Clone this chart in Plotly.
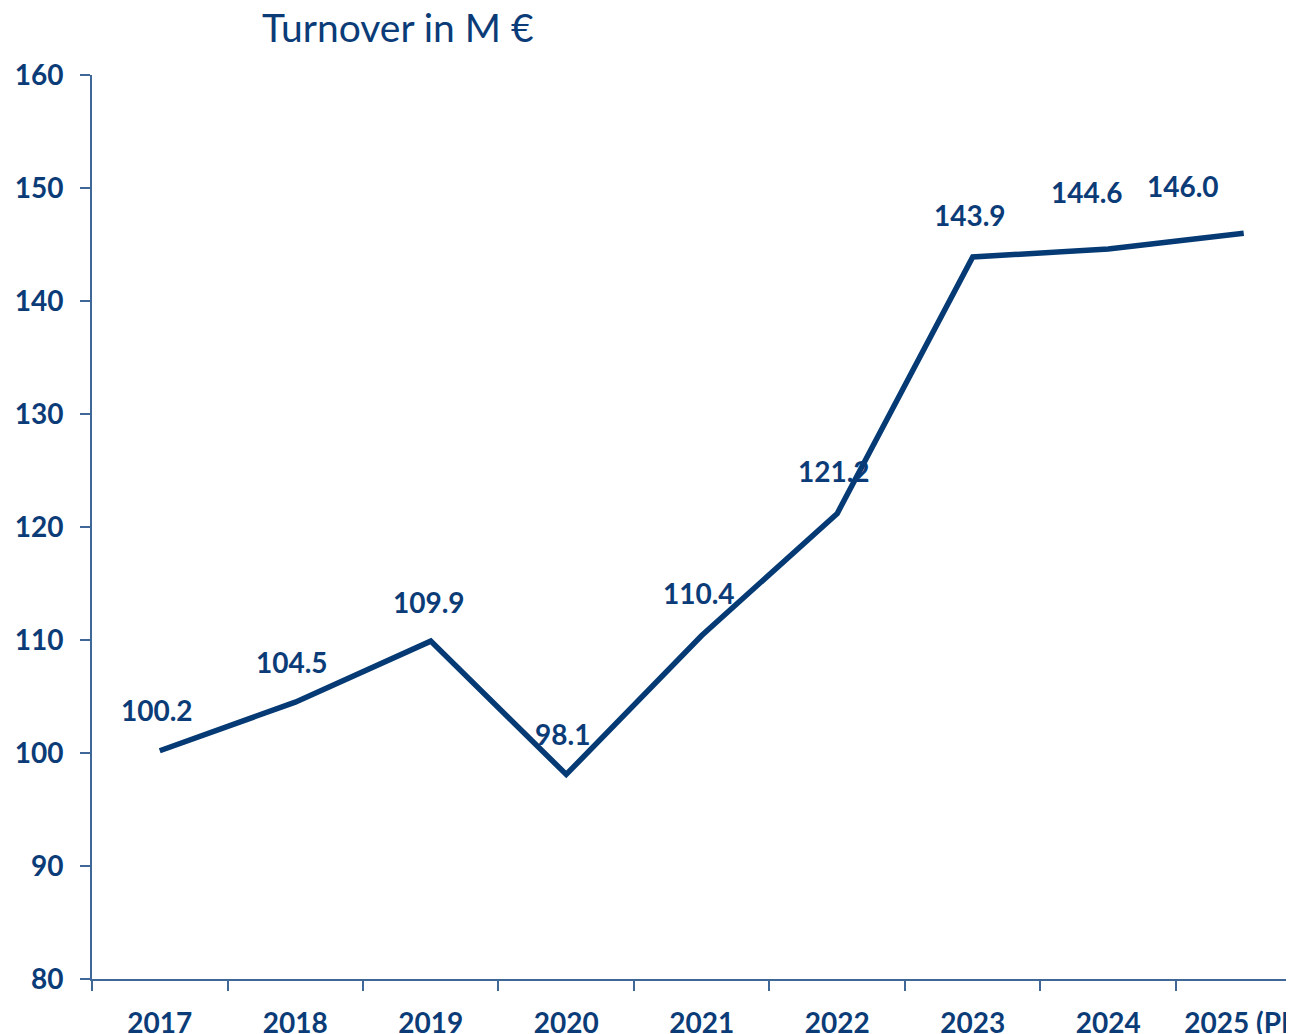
import plotly.graph_objects as go

years = ["2017", "2018", "2019", "2020", "2021", "2022", "2023", "2024", "2025 (PL)"]
turnover = [100.2, 104.5, 109.9, 98.1, 110.4, 121.2, 143.9, 144.6, 146.0]
label_texts = ["100.2", "104.5", "109.9", "98.1", "110.4", "121.2", "143.9", "144.6", "146.0"]
y_ticks = [80, 90, 100, 110, 120, 130, 140, 150, 160]

# label offsets in pixels (x, y)
label_dx = [-3, -3, -2, -4, -3, -3, -3, -21, -61]
label_dy = [41, 40, 39, 40, 42, 42, 42, 57, 47]

NAVY = "#0B3C78"
AXIS = "#3F6797"

# the page body has an 8px margin; size the figure to fill the rest of the window
OFF = 8
W, H = 1294 - OFF, 1034 - OFF

fig = go.Figure()
fig.add_trace(go.Scatter(
    x=years, y=turnover, mode="lines",
    line=dict(color="#053A74", width=5.5),
    hoverinfo="skip", showlegend=False,
))

for i, (val, txt, dx, dy) in enumerate(zip(turnover, label_texts, label_dx, label_dy)):
    fig.add_annotation(
        x=i, y=val, text=txt, showarrow=False,
        xshift=dx, yshift=dy,
        font=dict(family="Lato", size=28, color=NAVY, weight="bold"),
    )

fig.update_layout(
    width=W, height=H,
    paper_bgcolor="white", plot_bgcolor="white",
    margin=dict(l=92 - OFF, r=0, t=75 - OFF, b=H - (979 - OFF)),
    title=dict(
        text="Turnover in M €",
        font=dict(family="Lato", size=39, color=NAVY),
        xref="container", yref="container",
        x=(262 - OFF) / W, xanchor="left",
        y=1 - (28 - OFF) / H, yanchor="middle",
    ),
    xaxis=dict(
        type="category",
        range=[-0.5, 8.371],
        showline=True, linecolor=AXIS, linewidth=2,
        ticks="outside", tickson="boundaries", ticklen=10, tickwidth=1.5, tickcolor=AXIS,
        showgrid=False, zeroline=False,
        tickfont=dict(family="Lato", size=28, color=NAVY, weight="bold"),
        ticklabelstandoff=18,
        automargin=False,
    ),
    yaxis=dict(
        range=[80, 160],
        tickvals=y_ticks,
        showline=True, linecolor=AXIS, linewidth=2,
        ticks="outside", ticklen=10, tickwidth=1.5, tickcolor=AXIS,
        showgrid=False, zeroline=False,
        tickfont=dict(family="Lato", size=28, color=NAVY, weight="bold"),
        ticklabelstandoff=11,
        automargin=False,
    ),
)

fig.write_html("out.html")
